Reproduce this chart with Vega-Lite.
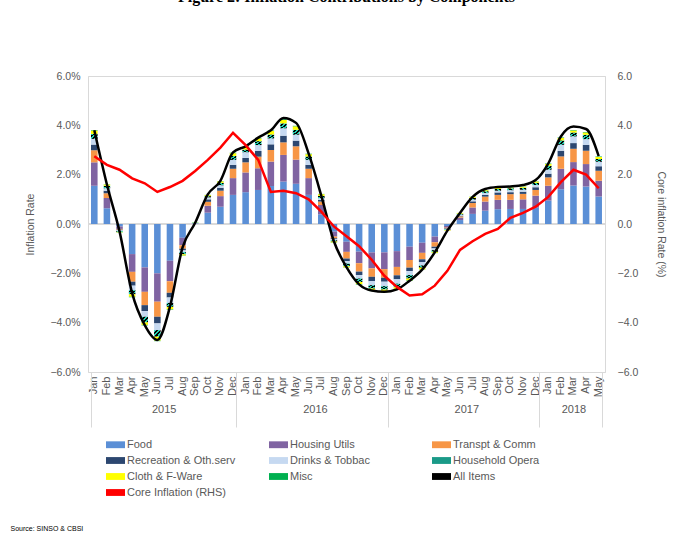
{
"$schema": "https://vega.github.io/schema/vega-lite/v6.json",
"width": 517, "height": 296,
"autosize": {"type": "none"},
"padding": {"left": 88, "top": 76, "right": 68, "bottom": 168},
"background": "white",
"config": {"font": "Liberation Sans", "view": {"stroke": "#d9d9d9"}, "axis": {"labelColor": "#595959", "titleColor": "#595959", "labelFont": "Liberation Sans", "titleFont": "Liberation Sans", "grid": false}},
"title": {"text": "Figure 2: Inflation Contributions by Components", "font": "Liberation Serif", "fontSize": 16, "fontWeight": "bold", "color": "#000000", "anchor": "middle", "frame": "group", "offset": 50, "baseline": "bottom"},
"data": {"values": [
{"i":0,"Food":1.55,"Housing Utils":0.95,"Transpt & Comm":0.49,"Recreation & Oth.serv":0.23,"Drinks & Tobbac":0.23,"Household Opera":0.20,"Cloth & F-Ware":0.14,"Misc":0.02,"All":3.8,"Core":2.75},
{"i":1,"Food":0.64,"Housing Utils":0.41,"Transpt & Comm":0.20,"Recreation & Oth.serv":0.10,"Drinks & Tobbac":0.10,"Household Opera":0.10,"Cloth & F-Ware":0.05,"Misc":0.01,"All":1.6,"Core":2.4},
{"i":2,"Food":-0.10,"Housing Utils":-0.10,"Transpt & Comm":-0.03,"Recreation & Oth.serv":-0.02,"Drinks & Tobbac":-0.03,"Household Opera":-0.04,"Cloth & F-Ware":-0.02,"Misc":-0.01,"All":-0.3,"Core":2.2},
{"i":3,"Food":-1.22,"Housing Utils":-0.72,"Transpt & Comm":-0.40,"Recreation & Oth.serv":-0.16,"Drinks & Tobbac":-0.18,"Household Opera":-0.17,"Cloth & F-Ware":-0.10,"Misc":-0.02,"All":-2.8,"Core":1.85},
{"i":4,"Food":-1.76,"Housing Utils":-0.99,"Transpt & Comm":-0.54,"Recreation & Oth.serv":-0.24,"Drinks & Tobbac":-0.23,"Household Opera":-0.23,"Cloth & F-Ware":-0.10,"Misc":-0.02,"All":-4.1,"Core":1.65},
{"i":5,"Food":-2.00,"Housing Utils":-1.15,"Transpt & Comm":-0.61,"Recreation & Oth.serv":-0.27,"Drinks & Tobbac":-0.27,"Household Opera":-0.27,"Cloth & F-Ware":-0.16,"Misc":-0.02,"All":-4.7,"Core":1.3},
{"i":6,"Food":-1.49,"Housing Utils":-0.83,"Transpt & Comm":-0.47,"Recreation & Oth.serv":-0.19,"Drinks & Tobbac":-0.22,"Household Opera":-0.16,"Cloth & F-Ware":-0.10,"Misc":-0.02,"All":-3.35,"Core":1.5},
{"i":7,"Food":-0.56,"Housing Utils":-0.30,"Transpt & Comm":-0.14,"Recreation & Oth.serv":-0.07,"Drinks & Tobbac":-0.07,"Household Opera":-0.09,"Cloth & F-Ware":-0.05,"Misc":-0.01,"All":-0.95,"Core":1.75},
{"i":8,"Food":0.02,"Housing Utils":0.01,"Transpt & Comm":0.0,"Recreation & Oth.serv":0.0,"Drinks & Tobbac":0.01,"Household Opera":0.02,"Cloth & F-Ware":0.01,"Misc":0.0,"All":0.05,"Core":2.15},
{"i":9,"Food":0.46,"Housing Utils":0.28,"Transpt & Comm":0.16,"Recreation & Oth.serv":0.10,"Drinks & Tobbac":0.08,"Household Opera":0.05,"Cloth & F-Ware":0.04,"Misc":0.01,"All":1.2,"Core":2.6},
{"i":10,"Food":0.70,"Housing Utils":0.43,"Transpt & Comm":0.22,"Recreation & Oth.serv":0.12,"Drinks & Tobbac":0.10,"Household Opera":0.10,"Cloth & F-Ware":0.06,"Misc":0.01,"All":1.75,"Core":3.1},
{"i":11,"Food":1.18,"Housing Utils":0.68,"Transpt & Comm":0.38,"Recreation & Oth.serv":0.16,"Drinks & Tobbac":0.20,"Household Opera":0.16,"Cloth & F-Ware":0.11,"Misc":0.02,"All":2.9,"Core":3.7},
{"i":12,"Food":1.29,"Housing Utils":0.80,"Transpt & Comm":0.41,"Recreation & Oth.serv":0.18,"Drinks & Tobbac":0.23,"Household Opera":0.11,"Cloth & F-Ware":0.11,"Misc":0.02,"All":3.15,"Core":3.2},
{"i":13,"Food":1.38,"Housing Utils":0.88,"Transpt & Comm":0.47,"Recreation & Oth.serv":0.23,"Drinks & Tobbac":0.24,"Household Opera":0.16,"Cloth & F-Ware":0.11,"Misc":0.02,"All":3.5,"Core":2.6},
{"i":14,"Food":1.54,"Housing Utils":0.99,"Transpt & Comm":0.47,"Recreation & Oth.serv":0.23,"Drinks & Tobbac":0.24,"Household Opera":0.16,"Cloth & F-Ware":0.14,"Misc":0.02,"All":3.8,"Core":1.3},
{"i":15,"Food":1.72,"Housing Utils":1.08,"Transpt & Comm":0.51,"Recreation & Oth.serv":0.27,"Drinks & Tobbac":0.30,"Household Opera":0.20,"Cloth & F-Ware":0.14,"Misc":0.03,"All":4.3,"Core":1.35},
{"i":16,"Food":1.63,"Housing Utils":0.98,"Transpt & Comm":0.54,"Recreation & Oth.serv":0.23,"Drinks & Tobbac":0.24,"Household Opera":0.20,"Cloth & F-Ware":0.14,"Misc":0.02,"All":4.1,"Core":1.25},
{"i":17,"Food":1.18,"Housing Utils":0.68,"Transpt & Comm":0.38,"Recreation & Oth.serv":0.16,"Drinks & Tobbac":0.20,"Household Opera":0.14,"Cloth & F-Ware":0.09,"Misc":0.02,"All":2.85,"Core":1.0},
{"i":18,"Food":0.39,"Housing Utils":0.38,"Transpt & Comm":0.14,"Recreation & Oth.serv":0.07,"Drinks & Tobbac":0.07,"Household Opera":0.09,"Cloth & F-Ware":0.07,"Misc":0.01,"All":1.15,"Core":0.5},
{"i":19,"Food":-0.31,"Housing Utils":-0.20,"Transpt & Comm":-0.07,"Recreation & Oth.serv":-0.04,"Drinks & Tobbac":-0.04,"Household Opera":-0.05,"Cloth & F-Ware":-0.04,"Misc":-0.01,"All":-0.7,"Core":-0.1},
{"i":20,"Food":-0.72,"Housing Utils":-0.41,"Transpt & Comm":-0.27,"Recreation & Oth.serv":-0.11,"Drinks & Tobbac":-0.09,"Household Opera":-0.11,"Cloth & F-Ware":-0.05,"Misc":-0.01,"All":-1.75,"Core":-0.5},
{"i":21,"Food":-1.12,"Housing Utils":-0.47,"Transpt & Comm":-0.34,"Recreation & Oth.serv":-0.14,"Drinks & Tobbac":-0.14,"Household Opera":-0.14,"Cloth & F-Ware":-0.09,"Misc":-0.02,"All":-2.45,"Core":-0.9},
{"i":22,"Food":-1.15,"Housing Utils":-0.65,"Transpt & Comm":-0.34,"Recreation & Oth.serv":-0.18,"Drinks & Tobbac":-0.16,"Household Opera":-0.14,"Cloth & F-Ware":-0.08,"Misc":-0.02,"All":-2.7,"Core":-1.45},
{"i":23,"Food":-1.15,"Housing Utils":-0.68,"Transpt & Comm":-0.35,"Recreation & Oth.serv":-0.16,"Drinks & Tobbac":-0.18,"Household Opera":-0.14,"Cloth & F-Ware":-0.09,"Misc":-0.02,"All":-2.75,"Core":-2.1},
{"i":24,"Food":-1.10,"Housing Utils":-0.64,"Transpt & Comm":-0.34,"Recreation & Oth.serv":-0.16,"Drinks & Tobbac":-0.18,"Household Opera":-0.14,"Cloth & F-Ware":-0.07,"Misc":-0.02,"All":-2.65,"Core":-2.55},
{"i":25,"Food":-0.92,"Housing Utils":-0.54,"Transpt & Comm":-0.31,"Recreation & Oth.serv":-0.14,"Drinks & Tobbac":-0.16,"Household Opera":-0.14,"Cloth & F-Ware":-0.08,"Misc":-0.02,"All":-2.3,"Core":-2.9},
{"i":26,"Food":-0.76,"Housing Utils":-0.41,"Transpt & Comm":-0.26,"Recreation & Oth.serv":-0.11,"Drinks & Tobbac":-0.14,"Household Opera":-0.09,"Cloth & F-Ware":-0.07,"Misc":-0.01,"All":-1.85,"Core":-2.85},
{"i":27,"Food":-0.51,"Housing Utils":-0.23,"Transpt & Comm":-0.18,"Recreation & Oth.serv":-0.07,"Drinks & Tobbac":-0.07,"Household Opera":-0.07,"Cloth & F-Ware":-0.04,"Misc":-0.01,"All":-1.15,"Core":-2.5},
{"i":28,"Food":-0.08,"Housing Utils":-0.07,"Transpt & Comm":-0.03,"Recreation & Oth.serv":-0.02,"Drinks & Tobbac":-0.02,"Household Opera":-0.03,"Cloth & F-Ware":-0.02,"Misc":0.0,"All":-0.27,"Core":-1.9},
{"i":29,"Food":0.16,"Housing Utils":0.10,"Transpt & Comm":0.05,"Recreation & Oth.serv":0.03,"Drinks & Tobbac":0.04,"Household Opera":0.04,"Cloth & F-Ware":0.03,"Misc":0.0,"All":0.45,"Core":-1.05},
{"i":30,"Food":0.41,"Housing Utils":0.26,"Transpt & Comm":0.18,"Recreation & Oth.serv":0.07,"Drinks & Tobbac":0.07,"Household Opera":0.07,"Cloth & F-Ware":0.04,"Misc":0.01,"All":1.1,"Core":-0.7},
{"i":31,"Food":0.54,"Housing Utils":0.37,"Transpt & Comm":0.20,"Recreation & Oth.serv":0.07,"Drinks & Tobbac":0.08,"Household Opera":0.07,"Cloth & F-Ware":0.04,"Misc":0.01,"All":1.42,"Core":-0.4},
{"i":32,"Food":0.60,"Housing Utils":0.38,"Transpt & Comm":0.20,"Recreation & Oth.serv":0.10,"Drinks & Tobbac":0.07,"Household Opera":0.07,"Cloth & F-Ware":0.04,"Misc":0.01,"All":1.5,"Core":-0.2},
{"i":33,"Food":0.61,"Housing Utils":0.37,"Transpt & Comm":0.23,"Recreation & Oth.serv":0.08,"Drinks & Tobbac":0.08,"Household Opera":0.08,"Cloth & F-Ware":0.03,"Misc":0.01,"All":1.52,"Core":0.25},
{"i":34,"Food":0.61,"Housing Utils":0.39,"Transpt & Comm":0.22,"Recreation & Oth.serv":0.09,"Drinks & Tobbac":0.08,"Household Opera":0.08,"Cloth & F-Ware":0.04,"Misc":0.01,"All":1.58,"Core":0.45},
{"i":35,"Food":0.66,"Housing Utils":0.49,"Transpt & Comm":0.23,"Recreation & Oth.serv":0.11,"Drinks & Tobbac":0.09,"Household Opera":0.09,"Cloth & F-Ware":0.05,"Misc":0.01,"All":1.78,"Core":0.7},
{"i":36,"Food":0.95,"Housing Utils":0.60,"Transpt & Comm":0.34,"Recreation & Oth.serv":0.15,"Drinks & Tobbac":0.16,"Household Opera":0.16,"Cloth & F-Ware":0.07,"Misc":0.02,"All":2.45,"Core":1.1},
{"i":37,"Food":1.41,"Housing Utils":0.83,"Transpt & Comm":0.50,"Recreation & Oth.serv":0.23,"Drinks & Tobbac":0.24,"Household Opera":0.18,"Cloth & F-Ware":0.10,"Misc":0.02,"All":3.55,"Core":1.7},
{"i":38,"Food":1.56,"Housing Utils":0.95,"Transpt & Comm":0.54,"Recreation & Oth.serv":0.23,"Drinks & Tobbac":0.27,"Household Opera":0.16,"Cloth & F-Ware":0.08,"Misc":0.02,"All":3.95,"Core":2.2},
{"i":39,"Food":1.52,"Housing Utils":0.91,"Transpt & Comm":0.54,"Recreation & Oth.serv":0.24,"Drinks & Tobbac":0.23,"Household Opera":0.18,"Cloth & F-Ware":0.09,"Misc":0.02,"All":3.85,"Core":2.0},
{"i":40,"Food":1.11,"Housing Utils":0.64,"Transpt & Comm":0.41,"Recreation & Oth.serv":0.18,"Drinks & Tobbac":0.18,"Household Opera":0.12,"Cloth & F-Ware":0.08,"Misc":0.02,"All":2.75,"Core":1.45}
]},
"layer": [
 {"layer": [
  {"mark": {"type": "rule", "color": "#d9d9d9", "strokeWidth": 1}, "encoding": {"y": {"datum": 0, "type": "quantitative"}}},
  {"transform": [
    {"fold": ["Food","Housing Utils","Transpt & Comm","Recreation & Oth\\.serv","Drinks & Tobbac","Household Opera","Cloth & F-Ware","Misc"], "as": ["key","v"]},
    {"calculate": "indexof(['Food','Housing Utils','Transpt & Comm','Recreation & Oth.serv','Drinks & Tobbac','Household Opera','Cloth & F-Ware','Misc'], datum.key)", "as": "o"}
   ],
   "mark": {"type": "bar"},
   "encoding": {
    "x": {"field": "i", "type": "ordinal", "scale": {"paddingInner": 0.48, "paddingOuter": 0.24},
          "axis": {"title": null, "labelExpr": "['Jan','Feb','Mar','Apr','May','Jun','Jul','Aug','Sep','Oct','Nov','Dec'][datum.value % 12]", "labelAngle": 270, "labelFontSize": 11, "labelPadding": 4, "ticks": false, "domain": false}},
    "y": {"field": "v", "type": "quantitative", "stack": "zero", "scale": {"domain": [-6, 6], "nice": false},
          "axis": {"title": "Inflation Rate", "values": [-6,-4,-2,0,2,4,6], "labelExpr": "format(datum.value,'.1f')+'%'", "ticks": false, "domainColor": "#d9d9d9", "labelPadding": 8, "labelFontSize": 10.5, "titleFontSize": 10.5, "titleFontWeight": "normal", "titlePadding": 14}},
    "color": {"condition": {"test": "datum.key === 'Household Opera'", "value": {"gradient": "linear", "x1": 0, "y1": 0, "x2": 1, "y2": 1, "stops": [{"offset": 0, "color": "#20d0b0"}, {"offset": 0.17, "color": "#20d0b0"}, {"offset": 0.17, "color": "#000000"}, {"offset": 0.33, "color": "#000000"}, {"offset": 0.33, "color": "#20d0b0"}, {"offset": 0.5, "color": "#20d0b0"}, {"offset": 0.5, "color": "#000000"}, {"offset": 0.67, "color": "#000000"}, {"offset": 0.67, "color": "#20d0b0"}, {"offset": 0.83, "color": "#20d0b0"}, {"offset": 0.83, "color": "#000000"}, {"offset": 1, "color": "#000000"}]}},
      "field": "key", "type": "nominal",
      "scale": {"domain": ["Food","Housing Utils","Transpt & Comm","Recreation & Oth.serv","Drinks & Tobbac","Household Opera","Cloth & F-Ware","Misc","All Items","Core Inflation (RHS)"],
                "range": ["#5b8fd6","#8064a2","#f79646","#2c4770","#c6d9f1","#1a9a88","#ffff00","#00b050","#000000","#ff0000"]},
      "legend": {"title": null, "orient": "none", "direction": "horizontal", "legendX": 18, "legendY": 359, "columns": 3, "gridAlign": "all", "columnPadding": 33, "rowPadding": 1, "symbolSize": 361, "symbolType": "M-1,-0.36H1V0.36H-1Z", "symbolStrokeWidth": 0, "labelFontSize": 11, "labelColor": "#595959", "labelFont": "Liberation Sans", "labelOffset": 2}
    },
    "order": {"field": "o", "type": "quantitative"}
   }
  },
  {"mark": {"type": "line", "interpolate": "monotone", "strokeWidth": 2.5},
   "encoding": {
    "x": {"field": "i", "type": "ordinal"},
    "y": {"field": "All", "type": "quantitative"},
    "color": {"datum": "All Items", "type": "nominal"}
   }}
 ]},
 {"mark": {"type": "line", "strokeWidth": 2.5},
  "encoding": {
   "x": {"field": "i", "type": "ordinal",
         "axis": {"orient": "bottom", "title": "Source: SINSO & CBSI", "titleX": -78, "titleY": 158, "titleAlign": "left", "titleAnchor": null, "titleFontSize": 7, "titleColor": "#000000", "titleFontWeight": "normal", "titleAngle": 0, "titleBaseline": "alphabetic",
                  "labelExpr": "datum.value==5?'2015':datum.value==17?'2016':datum.value==29?'2017':datum.value==38?'2018':''",
                  "labelAngle": 0, "labelOffset": {"condition": {"test": "datum.value==38", "value": 0}, "value": 6.3}, "labelPadding": -24, "labelFontSize": 11, "labelOverlap": false, "labelBound": false, "labelFlush": false,
                  "tickBand": "extent", "tickSize": 55, "tickColor": "#d9d9d9", "tickOffset": 0,
                  "tickOpacity": {"condition": {"test": "datum.value % 12 == 11 || datum.value == 40 || datum.extra", "value": 1}, "value": 0}, "domain": false}},
   "y": {"field": "Core", "type": "quantitative", "scale": {"domain": [-6, 6], "nice": false},
         "axis": {"orient": "right", "title": "Core inflation Rate (%)", "values": [-6,-4,-2,0,2,4,6], "format": ".1f", "ticks": false, "domainColor": "#d9d9d9", "labelPadding": 12, "labelFontSize": 10.5, "titleFontSize": 10.5, "titleFontWeight": "normal", "titlePadding": 18}},
   "color": {"datum": "Core Inflation (RHS)", "type": "nominal"}
  }}
],
"resolve": {"scale": {"y": "independent"}, "axis": {"x": "independent"}}
}
